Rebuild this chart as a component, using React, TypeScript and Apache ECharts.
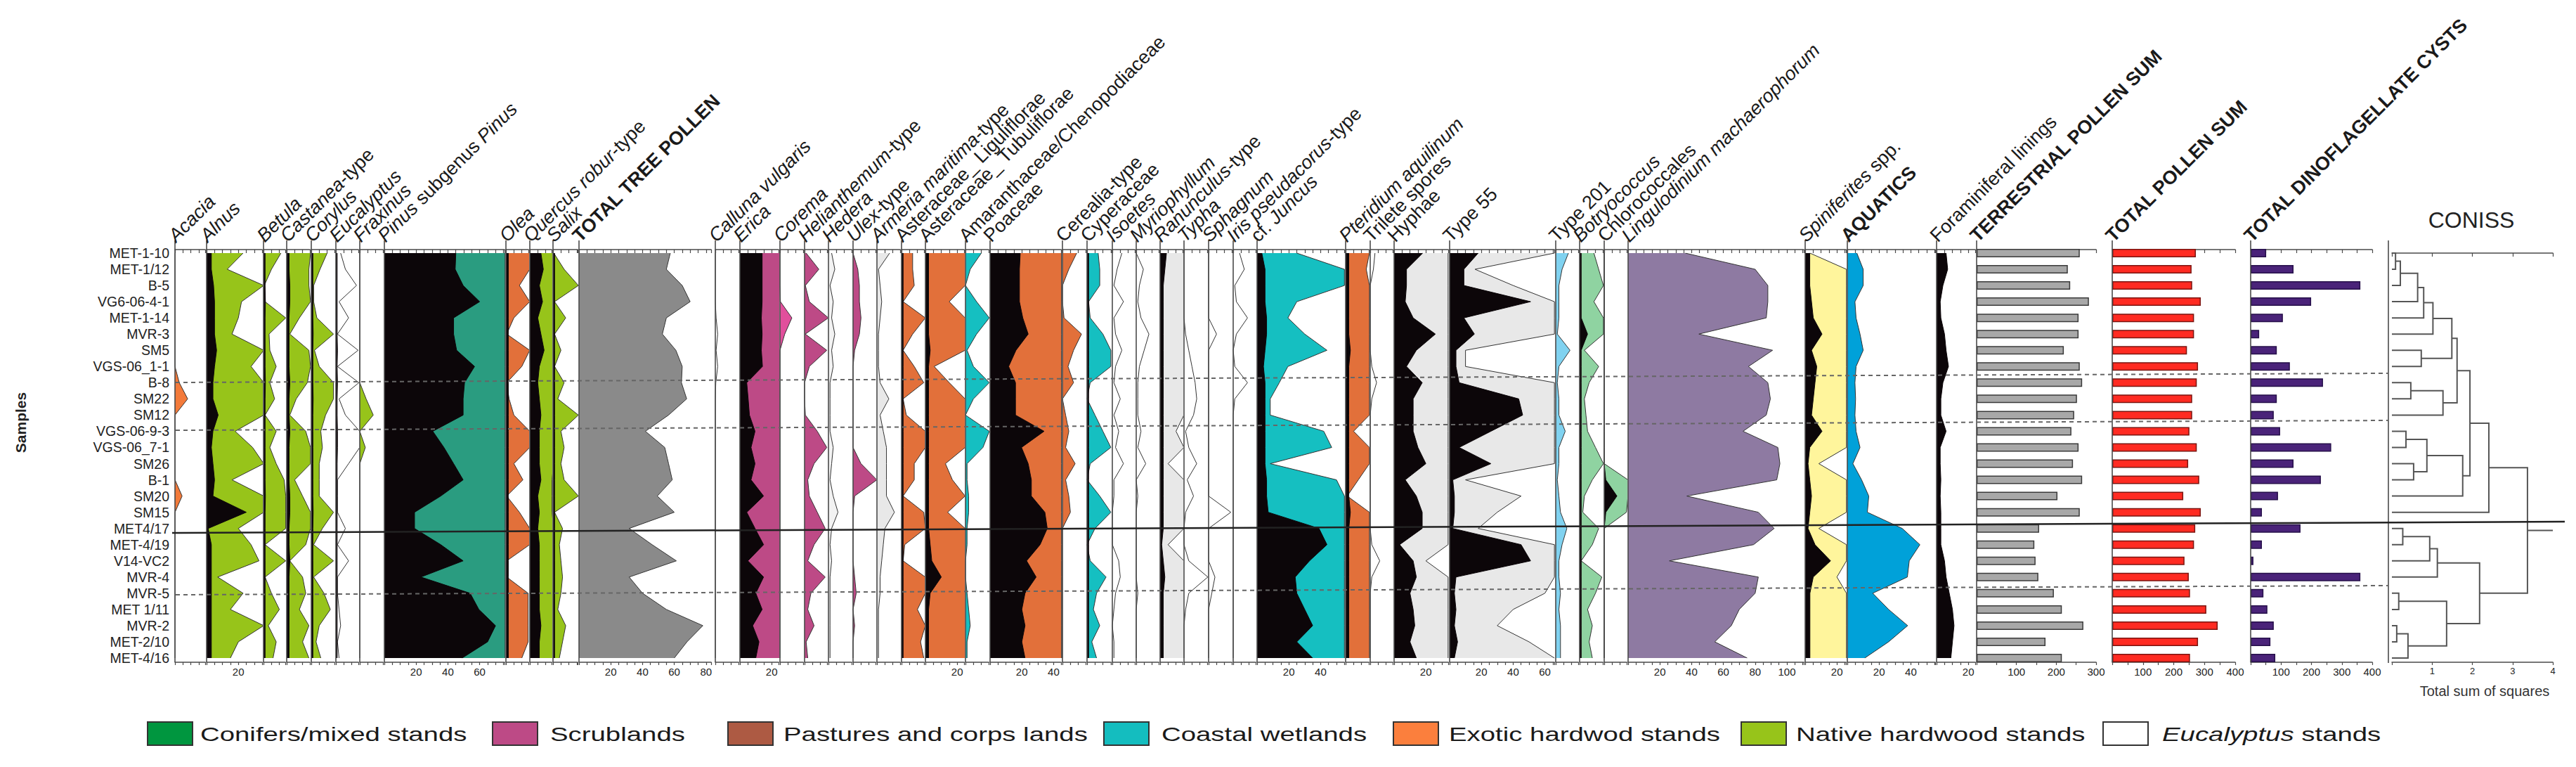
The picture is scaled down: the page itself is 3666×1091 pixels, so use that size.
import React, { useEffect, useRef } from 'react';
import * as echarts from 'echarts';

// ---------------- categories ----------------
const samples = ['MET-1-10', 'MET-1/12', 'B-5', 'VG6-06-4-1', 'MET-1-14', 'MVR-3', 'SM5', 'VGS-06_1-1', 'B-8', 'SM22', 'SM12', 'VGS-06-9-3', 'VGS-06_7-1', 'SM26', 'B-1', 'SM20', 'SM15', 'MET4/17', 'MET-4/19', 'V14-VC2', 'MVR-4', 'MVR-5', 'MET 1/11', 'MVR-2', 'MET-2/10', 'MET-4/16'];

// ---------------- values (exaggerated fill / real black) ----------------
const acaciaFill = [0, 0, 0, 0, 0, 0, 0, 0, 2.7, 8, 0, 0, 0, 0, 0, 4.5, 0, 0, 0, 0, 0, 0, 0, 0, 0, 0];
const alnusFill = [23, 13, 36, 22, 20, 16, 36, 28, 36, 36, 36, 18, 29, 36, 16, 36, 36, 20, 28, 33, 7, 23, 15, 36, 20, 15];
const alnusBlack = [3, 3, 4.4, 5, 5, 5, 6.3, 5, 4, 4, 7.3, 4, 3, 4, 5, 4, 25, 1, 3, 3, 3, 3, 3, 3, 3, 3];
const betulaFill = [11, 5, 0.5, 1, 14, 3.5, 4, 8, 4, 7, 1, 8, 4, 8, 13, 14, 14, 14, 1, 14, 1, 5, 10, 3, 8, 6];
const betulaBlack = [1, 1, 1, 1.2, 1, 1, 1, 1, 1.2, 1, 1, 1, 1, 1, 1, 1.2, 1, 1, 1, 1, 1, 1, 1, 1, 1, 1];
const castaneaFill = [15, 14, 14, 15, 8, 2, 14, 15, 13, 6, 2, 12, 15, 15, 5, 10, 15, 15, 12, 2, 10, 12, 8, 14, 10, 14];
const castaneaBlack = [1.5, 1.5, 2, 2, 1.5, 1.5, 1.5, 1.5, 2, 1.5, 1.5, 2, 1.5, 1.5, 1.5, 2, 2, 1.5, 1.5, 2, 1.5, 1.5, 1.5, 1.5, 1.5, 1.5];
const corylusFill = [10, 5.5, 1.5, 1.5, 3.5, 14, 2, 5, 14, 14, 9, 6, 7, 5, 5, 5, 14, 7, 1.5, 14, 1.5, 8, 12, 5, 3, 6];
const corylusBlack = [1, 1, 1, 1, 1, 1.2, 1, 1, 1, 1.2, 1, 1, 1, 1, 1, 1, 1.2, 1, 1, 1, 1, 1, 1, 1, 1, 1];
const eucFill = [3, 6, 13, 2, 8, 1, 14, 1, 14.5, 2, 6, 15, 15, 8, 1, 1, 1, 6, 1, 8, 1, 1, 2, 3, 1, 2];
const eucBlack = [0.8, 0.8, 0.8, 0.8, 0.8, 0.8, 1, 0.8, 1, 0.8, 0.8, 1, 1, 0.8, 0.8, 0.8, 0.8, 0.8, 0.8, 0.8, 0.8, 0.8, 0.8, 0.8, 0.8, 0.8];
const fraxFill = [0, 0, 0, 0, 0, 0, 0, 0, 0, 4, 8.5, 0, 3.5, 0, 0, 0, 0, 0, 0, 0, 0, 0, 0, 0, 0, 0];
const pinusFill = [76, 76, 76, 76, 76, 76, 76, 76, 76, 76, 76, 76, 76, 76, 76, 76, 76, 76, 76, 76, 76, 76, 76, 76, 76, 76];
const pinusBlack = [45, 44.6, 49.6, 60, 43.6, 43.6, 45.5, 56.8, 50.5, 49.6, 49.6, 30.5, 37.5, 43.6, 49.6, 35.5, 19, 19, 35.5, 49.6, 23, 54, 59.5, 70, 65, 49];
const oleaFill = [15, 15, 8.5, 15, 5, 0.5, 15, 10, 0.5, 2, 5, 15, 15, 5, 10.7, 0.5, 8.5, 15, 15, 0.5, 0.5, 14, 14, 14, 14, 10];
const oleaBlack = [1.5, 1.5, 1.5, 1.5, 1.5, 1.5, 1.5, 1.5, 1.5, 1.5, 1.5, 1.5, 1.5, 1.5, 1.5, 1.5, 1.5, 1.5, 1.5, 1.5, 1.5, 1.5, 1.5, 1.5, 1.5, 1.5];
const quercusFill = [15, 15, 15, 15, 15, 15, 15, 15, 15, 15, 15, 15, 15, 15, 14, 14, 14, 15, 15, 15, 15, 15, 15, 15, 15, 15];
const quercusBlack = [7, 8.5, 6, 8, 5, 7, 9, 6, 5, 6, 7, 6, 6, 6, 7, 5, 6, 5, 6, 6, 6, 6, 6, 7, 6, 6];
const salixFill = [0.5, 7, 16, 1, 8, 1, 5, 1, 7, 3, 16, 5, 7, 5, 7, 16, 1, 6, 4, 5, 6, 5, 3, 8, 6, 4];
const salixBlack = [1, 1, 1, 1, 1, 1, 1, 1, 1, 1, 1, 1, 1, 1, 1, 1, 1, 1, 1, 1, 1, 1, 1, 1, 1, 1];
const totalTree = [57.5, 55, 65, 70, 55, 52.5, 61, 65, 64.5, 67.8, 56.4, 41.8, 54, 56.4, 58.7, 49.3, 60, 31.6, 46, 61.3, 31.6, 40, 55, 78, 68, 60];
const callunaFill = [0, 0, 0, 0, 0.5, 1.5, 0.5, 1.5, 0.3, 0, 0, 0, 0, 0, 0, 0, 0, 0, 0, 0, 0, 0, 0, 0, 0, 0];
const ericaFill = [25, 25, 25, 25, 25, 25, 25, 25, 25, 25, 25, 25, 25, 25, 25, 25, 25, 25, 25, 25, 25, 25, 25, 25, 25, 25];
const ericaBlack = [14, 14, 14, 14, 13.5, 14, 13.5, 14.2, 4.3, 5.2, 6, 9.5, 7, 9.5, 7, 14.9, 4.3, 9.5, 14.9, 5, 14.9, 10, 14, 8, 12, 10];
const coremaFill = [0, 0, 0, 0.3, 7.5, 3, 0, 0, 0, 0, 0, 0, 0, 0, 0, 0, 0, 0, 0, 0, 0, 0, 0, 0, 0, 0];
const heliFill = [1, 9, 0.5, 3, 15, 0.5, 14, 3, 0, 0, 0.5, 8, 14, 6, 2, 3, 8, 13, 6, 2, 13, 4, 2, 6, 1, 2];
const hederaFill = [2, 4, 1, 3, 2, 4, 2, 3, 1, 1, 1, 1, 3, 2, 1, 3, 6, 2, 1, 2, 1, 1, 1, 1, 1, 1];
const ulexFill = [0, 3, 4, 4, 5, 4, 1, 0, 0, 0, 0, 0, 0, 5, 15, 1, 0, 0, 0, 0, 1, 2, 0, 1, 0, 0];
const armeriaFill = [8, 1, 2, 3, 2, 1, 1, 1, 2, 7.5, 2, 4, 6, 6, 6, 6, 11, 5, 4, 3, 2, 2, 1, 1, 1, 1];
const astLigFill = [7, 7, 8, 1, 15, 7, 1, 8, 14, 1, 3, 15, 15, 8, 8, 1, 14, 15, 2, 1, 15, 15, 10, 15, 12, 14];
const astLigBlack = [1, 1, 1, 1, 1, 1, 1, 1, 1, 1, 1, 1, 1, 1, 1, 1, 1, 1, 1, 1, 1, 1, 1, 1, 1, 1];
const astTubFill = [25, 25, 25, 15, 25, 25, 25, 5.5, 15, 25, 25, 25, 25, 12.6, 17, 25, 14, 25, 25, 25, 25, 25, 25, 25, 25, 25];
const astTubBlack = [2, 2, 2, 2, 2, 2, 3, 2, 2, 2, 2, 2, 2, 2, 2, 2, 2, 2, 3, 4, 10, 3, 2, 2, 2, 2];
const amaranthFill = [10, 3, 0, 7, 15, 7, 1, 5, 15, 5, 0, 15, 11, 1, 1, 2, 2, 1, 1, 0, 0, 1, 2, 3, 1, 1];
const poaceaeFill = [45, 45, 45, 45, 45, 45, 45, 45, 45, 45, 45, 45, 45, 45, 45, 45, 45, 45, 45, 45, 45, 45, 45, 45, 45, 45];
const poaceaeBlack = [19, 18.5, 18.5, 18.5, 20.6, 24, 16.3, 11.7, 16, 16, 16, 34, 19.8, 24, 26, 26, 34.5, 36, 31.5, 23, 29, 22, 20, 22, 20, 22];
const cerealiaFill = [9, 4, 0, 0, 1, 12, 7, 3.5, 7, 0, 2, 4, 2, 8, 2, 4, 5, 0, 0, 0, 0, 0, 0, 0, 0, 0];
const cyperFill = [7, 8, 8, 1, 2, 10, 15, 15, 2, 0, 5, 10, 15, 2, 0, 8, 15, 5, 0, 2, 12, 6, 4, 8, 3, 6];
const cyperBlack = [1, 1, 1, 1, 1, 1, 1, 1, 1, 1, 1, 1, 1, 1, 1, 1, 1, 1, 1, 1, 1, 1, 1, 1, 1, 1];
const isoetesFill = [6, 3, 1, 7, 1, 2, 6, 2, 1, 5, 1, 4, 2, 7, 1, 1, 0, 0, 0, 4, 5, 2, 1, 0, 1, 1];
const myrioFill = [0, 4.5, 2, 1, 3, 8, 5, 2, 1, 1, 1, 3, 1, 6, 0, 1, 0, 0, 0, 0, 0, 1, 0, 0, 0, 0];
const ranFill = [15, 15, 15, 15, 15, 15, 15, 15, 15, 15, 15, 10, 15, 5, 15, 15, 15, 15, 5, 15, 15, 15, 15, 15, 15, 15];
const ranBlack = [4, 3, 2, 2, 2, 2, 2, 2, 2, 2, 2, 2, 2, 2, 2, 2, 2, 2, 1, 2, 3, 2, 2, 2, 2, 2];
const typhaFill = [0, 0, 0, 0, 0, 1, 3, 5, 7, 8, 6, 1, 3, 8, 2, 6, 1, 0, 0, 3, 15, 3, 1, 0, 0, 0];
const sphagFill = [0, 0, 0, 0, 0, 5, 0, 0, 0, 0, 0, 0, 0, 0, 0, 0, 14, 0, 0, 0, 4, 2, 0, 0, 0, 0];
const irisFill = [4, 7, 1, 2, 9, 2, 0, 1, 9, 1, 0, 0, 0, 0, 0, 0, 0, 0, 0, 0, 0, 0, 0, 0, 0, 0];
const juncusFill = [25, 55, 55, 25, 19.4, 30, 44, 19.4, 14, 8.3, 8.3, 42, 47, 8.3, 50, 55, 55, 55, 55, 55, 55, 55, 55, 55, 55, 55];
const juncusBlack = [3, 5, 5, 5, 6, 6, 5, 4, 5, 5, 5, 5, 5, 5, 6, 6, 7, 39, 44, 33, 24, 25, 30, 35, 25, 35];
const pteridFill = [15, 13, 15, 15, 15, 15, 15, 15, 15, 15, 15, 5, 15, 15, 8, 1, 15, 15, 15, 15, 15, 15, 15, 15, 15, 15];
const pteridBlack = [2, 2, 2, 2, 2, 2, 3, 2, 2, 2, 2, 2, 2, 2, 2, 2, 3, 2, 2, 2, 2, 2, 2, 2, 2, 2];
const trileteFill = [3, 2, 0, 0, 0, 0, 0, 1, 4, 1, 0, 0, 0, 0, 0, 0, 0, 0, 1, 6, 1, 0, 0, 0, 0, 0];
const hyphaeFill = [34, 34, 34, 34, 34, 34, 34, 34, 34, 34, 34, 34, 34, 34, 34, 34, 34, 34, 34, 20, 34, 34, 34, 34, 34, 34];
const hyphaeBlack = [18, 7.8, 7.8, 7, 12, 26, 14, 7.8, 17.7, 12, 12, 12, 15, 20, 7, 14, 17.7, 17.7, 3.5, 12, 14, 10, 12, 13, 10, 14];
const type55Fill = [66, 16, 40, 66, 66, 66, 10, 10, 66, 66, 66, 66, 66, 66, 10, 45, 30, 18, 66, 66, 66, 60, 40, 30, 50, 66];
const type55Black = [18, 9, 9, 51, 9, 15.6, 4, 4, 6, 43.5, 46, 26, 6, 26, 2, 3, 3, 2, 45, 51, 4, 3, 4, 3, 5, 3];
const type201Fill = [8, 4, 2, 2, 2, 1, 9, 2, 1, 2, 2, 6, 2, 2, 1, 2, 3, 7, 4, 2, 2, 3, 2, 3, 3, 3];
const botryoFill = [9, 12, 15, 9, 15, 15, 3, 12, 6, 3, 4, 5, 10, 15, 8, 3, 2, 12, 8, 1, 14, 10, 5, 8, 6, 8];
const botryoBlack = [1, 1, 1, 1, 1, 5, 1, 1, 1, 1, 1, 1, 1, 1, 1, 1, 1, 1, 1, 1, 1, 1, 1, 1, 1, 1];
const chloroFill = [0, 0, 0, 0, 0, 0, 0, 0, 0, 0, 0, 0, 0, 0, 15, 15, 14, 0, 0, 0, 0, 0, 0, 0, 0, 0];
const chloroBlack = [0, 0, 0, 0, 0, 0, 0, 0, 0, 0, 0, 0, 0, 0, 1, 8, 1, 0, 0, 0, 0, 0, 0, 0, 0, 0];
const lingFill = [36, 80, 88, 88, 87, 44.6, 91, 75.8, 88, 89.6, 87, 72.4, 94.3, 95.6, 93.6, 37, 82, 92, 79, 26, 82, 80, 70, 65, 54.6, 75];
const spinFill = [3, 26, 26, 26, 26, 26, 26, 26, 26, 26, 26, 26, 26, 8.6, 26, 26, 26, 8.6, 26, 26, 20, 26, 26, 26, 26, 26];
const spinBlack = [2.9, 2.9, 2.9, 4, 5.1, 10.6, 4, 7.3, 6.2, 5.1, 4, 10.6, 2.9, 1.8, 2.9, 4, 2.9, 1.8, 6.2, 16, 5.1, 3, 3, 3, 3, 3];
const aquaFill = [6, 10, 10, 4.8, 5.5, 8, 10, 5.5, 4.8, 5.2, 4.8, 5.5, 8, 3.5, 9, 13.5, 12.6, 34.6, 45.7, 39, 37.8, 16, 26, 38, 26, 11];
const foramBlack = [6, 7, 4, 2.3, 2.7, 5, 6, 7.5, 4, 2.7, 2.7, 6, 2.3, 2.3, 2.7, 2.3, 2.7, 2.7, 2.7, 5, 6, 8, 10, 11, 10, 9];
const terrSum = [259, 229, 235, 282, 256, 256, 219, 259, 265, 252, 245, 238, 256, 242, 265, 203, 259, 157, 145, 148, 155, 194, 214, 268, 173, 214];
const totalPollenSum = [272, 258, 260, 288, 266, 266, 243, 279, 275, 260, 260, 251, 275, 247, 283, 231, 288, 270, 266, 235, 249, 253, 306, 343, 279, 253];
const dinoSum = [51, 141, 361, 199, 106, 28, 86, 129, 238, 86, 76, 97, 265, 141, 231, 90, 37, 164, 37, 9, 361, 42, 55, 76, 65, 81];

// CONISS merges: [childA, childB, height]; >=0 sample index, <0 => -(merge index + 1)
const conissMerges: [number, number, number][] = [
  [0, 1, 0.09], [-1, 2, 0.21], [-2, 3, 0.64], [-3, 4, 0.79], [-4, 5, 1.02],
  [6, 7, 0.73], [-5, -6, 1.49], [8, 9, 0.47], [-8, 10, 1.27], [-7, -9, 1.62],
  [11, 12, 0.35], [13, 14, 0.54], [-11, -12, 0.87], [-13, 15, 1.76], [-10, -14, 1.94],
  [-15, 16, 2.41], [17, 18, 0.27], [-17, 19, 0.94], [-18, 20, 1.13], [21, 22, 0.17],
  [23, 24, 0.12], [-21, 25, 0.4], [-20, -22, 1.36], [-19, -23, 2.18], [-16, -24, 3.37],
];
const conissRootTop = 4;

// ---------------- styles / layout ----------------
const FONT = '"Liberation Sans", Arial, Helvetica, sans-serif';
const K = 2.26;
const TOP = 360;
const BOT = 936;
const AX = '#4a4a4a';
const BLACK = '#0c0609';
const C = {
  green: '#97c41a', teal: '#2a9c80', orange: '#e2703a', acacia: '#f37a3a', pink: '#bd4a86', corema: '#e14f9c',
  cyan: '#15bfc1', gray: '#8a8a8a', light: '#e8e8e8', white: '#ffffff', sky: '#80d2f0', mint: '#8fd3a1',
  purple: '#8e7aa2', yellow: '#fff59c', blue: '#00a1d9',
};

type Seg = [string, 'i' | 'n' | 'b'];
interface Col { label: Seg[]; x: number; next: number; fill?: number[]; color?: string; black?: number[]; bars?: number[]; barColor?: string; barBorder?: string; max?: number; }

const cols: Col[] = [
  { label: [['Acacia', 'i']], x: 249, next: 294, fill: acaciaFill, color: C.acacia },
  { label: [['Alnus', 'i']], x: 294, next: 375, fill: alnusFill, color: C.green, black: alnusBlack },
  { label: [['Betula', 'i']], x: 375, next: 408, fill: betulaFill, color: C.green, black: betulaBlack },
  { label: [['Castanea', 'i'], ['-type', 'n']], x: 408, next: 443, fill: castaneaFill, color: C.green, black: castaneaBlack },
  { label: [['Corylus', 'i']], x: 443, next: 478, fill: corylusFill, color: C.green, black: corylusBlack },
  { label: [['Eucalyptus', 'i']], x: 478, next: 512, fill: eucFill, color: C.white, black: eucBlack },
  { label: [['Fraxinus', 'i']], x: 512, next: 547, fill: fraxFill, color: C.green },
  { label: [['Pinus', 'i'], [' subgenus ', 'n'], ['Pinus', 'i']], x: 547, next: 720, fill: pinusFill, color: C.teal, black: pinusBlack },
  { label: [['Olea', 'i']], x: 720, next: 754, fill: oleaFill, color: C.orange, black: oleaBlack },
  { label: [['Quercus robur', 'i'], ['-type', 'n']], x: 754, next: 787, fill: quercusFill, color: C.green, black: quercusBlack },
  { label: [['Salix', 'i']], x: 787, next: 824, fill: salixFill, color: C.green, black: salixBlack },
  { label: [['TOTAL TREE POLLEN', 'b']], x: 824, next: 1014, fill: totalTree, color: C.gray },
  { label: [['Calluna vulgaris', 'i']], x: 1018, next: 1053, fill: callunaFill, color: C.white },
  { label: [['Erica', 'i']], x: 1053, next: 1110, fill: ericaFill, color: C.pink, black: ericaBlack },
  { label: [['Corema', 'i']], x: 1110, next: 1145, fill: coremaFill, color: C.corema },
  { label: [['Helianthemum', 'i'], ['-type', 'n']], x: 1145, next: 1179, fill: heliFill, color: C.pink },
  { label: [['Hedera', 'i']], x: 1179, next: 1214, fill: hederaFill, color: '#f2f2f2' },
  { label: [['Ulex', 'i'], ['-type', 'n']], x: 1214, next: 1248, fill: ulexFill, color: C.pink },
  { label: [['Armeria maritima', 'i'], ['-type', 'n']], x: 1248, next: 1283, fill: armeriaFill, color: C.light },
  { label: [['Asteraceae_ Liguliflorae', 'n']], x: 1283, next: 1317, fill: astLigFill, color: C.orange, black: astLigBlack },
  { label: [['Asteraceae_ Tubuliflorae', 'n']], x: 1317, next: 1374, fill: astTubFill, color: C.orange, black: astTubBlack },
  { label: [['Amaranthaceae/Chenopodiaceae', 'n']], x: 1374, next: 1409, fill: amaranthFill, color: C.cyan },
  { label: [['Poaceae', 'n']], x: 1409, next: 1512, fill: poaceaeFill, color: C.orange, black: poaceaeBlack },
  { label: [['Cerealia-type', 'n']], x: 1512, next: 1547, fill: cerealiaFill, color: C.orange },
  { label: [['Cyperaceae', 'n']], x: 1547, next: 1583, fill: cyperFill, color: C.cyan, black: cyperBlack },
  { label: [['Isoetes', 'i']], x: 1583, next: 1617, fill: isoetesFill, color: C.white },
  { label: [['Myriophyllum', 'i']], x: 1617, next: 1651, fill: myrioFill, color: C.white },
  { label: [['Ranunculus', 'i'], ['-type', 'n']], x: 1651, next: 1685, fill: ranFill, color: C.light, black: ranBlack },
  { label: [['Typha', 'i']], x: 1685, next: 1720, fill: typhaFill, color: C.white },
  { label: [['Sphagnum', 'i']], x: 1720, next: 1755, fill: sphagFill, color: C.white },
  { label: [['Iris pseudacorus', 'i'], ['-type', 'n']], x: 1755, next: 1789, fill: irisFill, color: C.white },
  { label: [['cf. ', 'n'], ['Juncus', 'i']], x: 1789, next: 1915, fill: juncusFill, color: C.cyan, black: juncusBlack },
  { label: [['Pteridium aquilinum', 'i']], x: 1915, next: 1950, fill: pteridFill, color: C.orange, black: pteridBlack },
  { label: [['Trilete spores', 'n']], x: 1950, next: 1984, fill: trileteFill, color: C.white },
  { label: [['Hyphae', 'n']], x: 1984, next: 2063, fill: hyphaeFill, color: C.light, black: hyphaeBlack },
  { label: [['Type 55', 'n']], x: 2063, next: 2214, fill: type55Fill, color: C.light, black: type55Black },
  { label: [['Type 201', 'n']], x: 2214, next: 2248, fill: type201Fill, color: C.sky },
  { label: [['Botryococcus', 'i']], x: 2248, next: 2283, fill: botryoFill, color: C.mint, black: botryoBlack },
  { label: [['Chlorococcales', 'n']], x: 2283, next: 2317, fill: chloroFill, color: C.mint, black: chloroBlack },
  { label: [['Lingulodinium machaerophorum', 'i']], x: 2317, next: 2569, fill: lingFill, color: C.purple },
  { label: [['Spiniferites', 'i'], [' spp.', 'n']], x: 2569, next: 2629, fill: spinFill, color: C.yellow, black: spinBlack },
  { label: [['AQUATICS', 'b']], x: 2629, next: 2756, fill: aquaFill, color: C.blue },
  { label: [['Foraminiferal linings', 'n']], x: 2756, next: 2813, black: foramBlack },
  { label: [['TERRESTRIAL POLLEN SUM', 'b']], x: 2813, next: 2985, bars: terrSum, barColor: '#a8a8a8', barBorder: '#3a3a3a', max: 300 },
  { label: [['TOTAL POLLEN SUM', 'b']], x: 3006, next: 3183, bars: totalPollenSum, barColor: '#ff2b22', barBorder: '#7a1510', max: 400 },
  { label: [['TOTAL DINOFLAGELLATE CYSTS', 'b']], x: 3203, next: 3378, bars: dinoSum, barColor: '#4a2379', barBorder: '#26104a', max: 400 },
];

const legendItems: { segs: Seg[]; color: string; bx: number; tx: number }[] = [
  { segs: [['Conifers/mixed stands', 'n']], color: '#00963f', bx: 210, tx: 285 },
  { segs: [['Scrublands', 'n']], color: '#bd4a86', bx: 701, tx: 783 },
  { segs: [['Pastures and corps lands', 'n']], color: '#ad5a43', bx: 1036, tx: 1115 },
  { segs: [['Coastal wetlands', 'n']], color: '#14bdbf', bx: 1571, tx: 1653 },
  { segs: [['Exotic hardwod stands', 'n']], color: '#fb7f3d', bx: 1983, tx: 2062 },
  { segs: [['Native hardwood stands', 'n']], color: '#97c41a', bx: 2478, tx: 2556 },
  { segs: [['Eucalyptus', 'i'], [' stands', 'n']], color: '#ffffff', bx: 2993, tx: 3077 },
];

const richText = (segs: Seg[]) => segs.map(([t, s]) => `{${s}|${t}}`).join('');
const richStyles = (size: number) => ({
  i: { fontStyle: 'italic', fontSize: size, fontFamily: FONT, fill: '#1a1a1a', color: '#1a1a1a' },
  n: { fontStyle: 'normal', fontSize: size, fontFamily: FONT, fill: '#1a1a1a', color: '#1a1a1a' },
  b: { fontWeight: 'bold', fontSize: size, fontFamily: FONT, fill: '#1a1a1a', color: '#1a1a1a' },
});

function buildOption() {
  const grid: any[] = [];
  const xAxis: any[] = [];
  const yAxis: any[] = [];
  const series: any[] = [];
  const graphics: any[] = [];

  const addAxes = (i: number, max: number, step: number, lab: number, labelFont: number) => {
    xAxis.push({
      gridIndex: i, type: 'value', position: 'top', min: 0, max, interval: step, offset: 5,
      axisLine: { show: true, lineStyle: { color: AX, width: 1.5 } },
      axisTick: { show: true, inside: true, length: 5, lineStyle: { color: AX, width: 1.2 } },
      axisLabel: { show: false }, splitLine: { show: false },
    });
    xAxis.push({
      gridIndex: i, type: 'value', position: 'bottom', min: 0, max, interval: step, offset: 6,
      axisLine: { show: true, lineStyle: { color: AX, width: 1.5 } },
      axisTick: { show: true, length: 4, lineStyle: { color: AX, width: 1.2 } },
      axisLabel: {
        show: true, fontSize: labelFont, color: '#222', fontFamily: FONT, margin: 6,
        formatter: (v: number) => (v > 0 && Math.abs(v / lab - Math.round(v / lab)) < 1e-6 ? String(Math.round(v)) : ''),
      },
      splitLine: { show: false },
    });
  };

  cols.forEach((c, i) => {
    const width = c.next - c.x - 2;
    const max = c.max ?? width / K;
    grid.push({ left: c.x, top: TOP, width, height: BOT - TOP });
    addAxes(i, max, c.bars ? 50 : 5, c.bars ? 100 : 20, 15);
    yAxis.push({
      gridIndex: i, type: 'category', data: samples, inverse: true, boundaryGap: false,
      axisLine: { show: false }, axisTick: { show: false }, splitLine: { show: false },
      axisLabel: i === 0 ? { show: true, interval: 0, fontSize: 19.5, color: '#222', margin: 8, fontFamily: FONT } : { show: false },
    });
    const base = { xAxisIndex: 2 * i + 1, yAxisIndex: i, silent: true };
    if (c.fill) {
      series.push({
        ...base, type: 'line', data: c.fill, symbol: 'none', showSymbol: false, z: 2,
        lineStyle: { color: '#333', width: 1 }, areaStyle: { color: c.color, opacity: 1 },
      });
    }
    if (c.black) {
      series.push({
        ...base, type: 'line', data: c.black, symbol: 'none', showSymbol: false, z: 3,
        lineStyle: { color: BLACK, width: 1 }, areaStyle: { color: BLACK, opacity: 1 },
      });
    }
    if (c.bars) {
      series.push({
        ...base, type: 'bar', data: c.bars, barWidth: 12, z: 2,
        itemStyle: { color: c.barColor, borderColor: c.barBorder, borderWidth: 1.5 },
      });
    }
    // column base line
    graphics.push({ type: 'line', z: 50, shape: { x1: c.x, y1: 342, x2: c.x, y2: 942 }, style: { stroke: AX, lineWidth: 1.6 } });
    // rotated label
    graphics.push({
      type: 'text', x: c.x + 5, y: 349, rotation: Math.PI / 4, z: 60,
      style: { text: richText(c.label), rich: richStyles(27), fontSize: 27, fontFamily: FONT, fill: '#1a1a1a', align: 'left', textAlign: 'left', verticalAlign: 'bottom', textVerticalAlign: 'bottom' },
    });
  });

  // CONISS grid
  const ci = cols.length;
  grid.push({ left: 3404, top: TOP, width: 229, height: BOT - TOP });
  addAxes(ci, 4, 1, 1, 13);
  yAxis.push({ gridIndex: ci, type: 'value', min: 0, max: samples.length - 1, inverse: true, show: false });
  const nodes: { pos: number; h: number }[] = [];
  const get = (r: number) => (r >= 0 ? { pos: r, h: 0 } : nodes[-r - 1]);
  const dendro: number[][] = [];
  conissMerges.forEach(([a, b, h]) => {
    const na = get(a);
    const nb = get(b);
    dendro.push([h, na.pos, nb.pos, na.h, nb.h]);
    nodes.push({ pos: (na.pos + nb.pos) / 2, h });
  });
  const root = nodes[nodes.length - 1];
  dendro.push([conissRootTop, root.pos, root.pos, root.h, root.h]);
  series.push({
    type: 'custom', xAxisIndex: 2 * ci + 1, yAxisIndex: ci, data: dendro, silent: true, clip: false,
    encode: { x: [0, 3, 4], y: [1, 2] },
    renderItem: (_p: any, api: any) => {
      const h = api.value(0), pa = api.value(1), pb = api.value(2), ha = api.value(3), hb = api.value(4);
      return {
        type: 'polyline',
        shape: { points: [api.coord([ha, pa]), api.coord([h, pa]), api.coord([h, pb]), api.coord([hb, pb])] },
        style: { stroke: '#555', lineWidth: 2, fill: null },
      };
    },
  });
  graphics.push({ type: 'line', z: 50, shape: { x1: 3399, y1: 342, x2: 3399, y2: 943 }, style: { stroke: AX, lineWidth: 1.6 } });
  graphics.push({ type: 'text', x: 3517, y: 313, z: 60, style: { text: 'CONISS', fontSize: 32, fontFamily: FONT, fill: '#222', align: 'center', textAlign: 'center', verticalAlign: 'middle', textVerticalAlign: 'middle' } });
  graphics.push({ type: 'text', x: 3536, y: 983, z: 60, style: { text: 'Total sum of squares', fontSize: 20, fontFamily: FONT, fill: '#333', align: 'center', textAlign: 'center', verticalAlign: 'middle', textVerticalAlign: 'middle' } });

  // zone lines
  const dash = { stroke: '#666', lineWidth: 2, lineDash: [6, 5] };
  graphics.push({ type: 'line', z: 80, shape: { x1: 250, y1: 544, x2: 3398, y2: 531 }, style: dash });
  graphics.push({ type: 'line', z: 80, shape: { x1: 250, y1: 612, x2: 3398, y2: 598 }, style: dash });
  graphics.push({ type: 'line', z: 80, shape: { x1: 250, y1: 846, x2: 3398, y2: 833 }, style: dash });
  graphics.push({ type: 'line', z: 80, shape: { x1: 245, y1: 758, x2: 3650, y2: 742 }, style: { stroke: '#222', lineWidth: 2.5 } });

  // Samples title
  graphics.push({ type: 'text', x: 29, y: 601, rotation: Math.PI / 2, z: 60, style: { text: 'Samples', fontSize: 21, fontWeight: 'bold', fontFamily: FONT, fill: '#222', align: 'center', textAlign: 'center', verticalAlign: 'middle', textVerticalAlign: 'middle' } });

  // legend
  legendItems.forEach((l) => {
    graphics.push({ type: 'rect', z: 60, shape: { x: l.bx, y: 1027, width: 64, height: 33 }, style: { fill: l.color, stroke: '#333', lineWidth: 2 } });
    graphics.push({ type: 'text', x: l.tx, y: 1044, scaleX: 1.37, z: 60, style: { text: richText(l.segs), rich: richStyles(28), fontSize: 28, fontFamily: FONT, fill: '#1a1a1a', align: 'left', textAlign: 'left', verticalAlign: 'middle', textVerticalAlign: 'middle' } });
  });

  return {
    animation: false,
    backgroundColor: '#ffffff',
    grid, xAxis, yAxis, series,
    graphic: { elements: graphics },
  };
}

export default function App() {
  const ref = useRef<HTMLDivElement>(null);
  useEffect(() => {
    if (!ref.current) return;
    const chart = echarts.init(ref.current, undefined, { renderer: 'svg' });
    chart.setOption(buildOption() as any);
    return () => chart.dispose();
  }, []);
  return <div ref={ref} style={{ position: 'absolute', left: 0, top: 0, width: 3666, height: 1091, background: '#fff' }} />;
}
